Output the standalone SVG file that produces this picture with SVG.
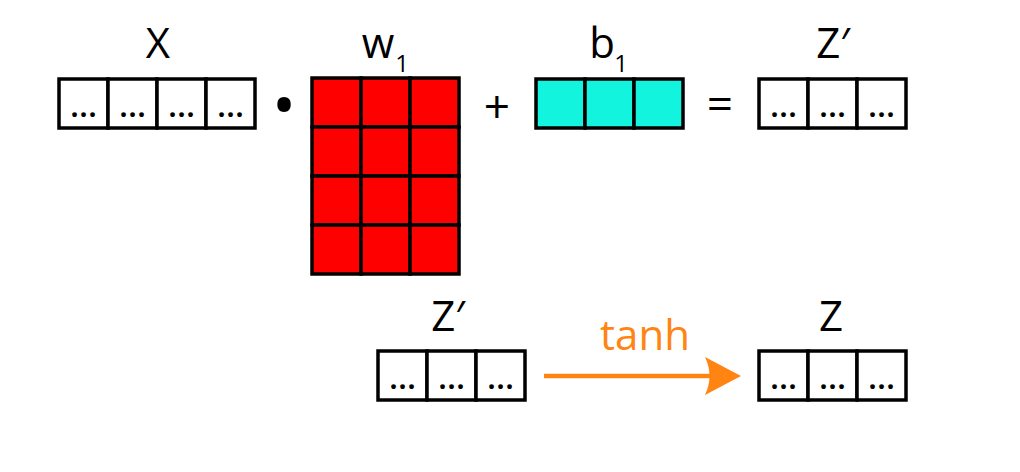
<svg xmlns="http://www.w3.org/2000/svg" width="1020" height="472" viewBox="0 0 1020 472">
  <style>
    .lbl { font-family: "Open Sans", "DejaVu Sans", sans-serif; font-size: 42px; fill: #000; text-anchor: middle; }
    .sub { font-family: "Open Sans", "DejaVu Sans", sans-serif; font-size: 24px; fill: #000; text-anchor: middle; }
    .op { font-family: "Open Sans", "DejaVu Sans", sans-serif; font-size: 46px; fill: #000; text-anchor: middle; }
    .dots { font-family: "Open Sans", "DejaVu Sans", sans-serif; font-size: 33px; font-weight: 600; fill: #000; text-anchor: middle; }
    .cell { fill: #fff; stroke: #000; stroke-width: 3.5; }
    .red { fill: #ff0000; stroke: #000; stroke-width: 3.5; }
    .cyan { fill: #12f4dd; stroke: #000; stroke-width: 3.5; }
    .fn { font-family: "Open Sans", "DejaVu Sans", sans-serif; font-size: 42px; fill: #ff8412; text-anchor: middle; }
  </style>
  <rect width="1020" height="472" fill="#fff"/>

  <g id="X">
    <text class="lbl" x="158" y="58">X</text>
    <rect class="cell" x="59" y="79" width="49" height="49"/>
    <rect class="cell" x="108" y="79" width="49" height="49"/>
    <rect class="cell" x="157" y="79" width="49" height="49"/>
    <rect class="cell" x="206" y="79" width="49" height="49"/>
    <text class="dots" x="83.5" y="117">...</text>
    <text class="dots" x="132.5" y="117">...</text>
    <text class="dots" x="181.5" y="117">...</text>
    <text class="dots" x="230.5" y="117">...</text>
  </g>

  <g id="dot-op">
    <text class="op" x="284" y="128" style="font-size:64px">•</text>
  </g>

  <g id="W1">
    <text class="lbl" x="378" y="58">w</text>
    <text class="sub" x="402" y="72">1</text>
    <rect class="red" x="312" y="78" width="49" height="49"/>
    <rect class="red" x="361" y="78" width="49" height="49"/>
    <rect class="red" x="410" y="78" width="49" height="49"/>
    <rect class="red" x="312" y="127" width="49" height="49"/>
    <rect class="red" x="361" y="127" width="49" height="49"/>
    <rect class="red" x="410" y="127" width="49" height="49"/>
    <rect class="red" x="312" y="176" width="49" height="49"/>
    <rect class="red" x="361" y="176" width="49" height="49"/>
    <rect class="red" x="410" y="176" width="49" height="49"/>
    <rect class="red" x="312" y="225" width="49" height="49"/>
    <rect class="red" x="361" y="225" width="49" height="49"/>
    <rect class="red" x="410" y="225" width="49" height="49"/>
  </g>

  <g id="plus-op">
    <text class="op" x="497" y="123">+</text>
  </g>

  <g id="B1">
    <text class="lbl" x="602" y="58">b</text>
    <text class="sub" x="621" y="72">1</text>
    <rect class="cyan" x="536" y="79" width="49" height="49"/>
    <rect class="cyan" x="585" y="79" width="49" height="49"/>
    <rect class="cyan" x="634" y="79" width="49" height="49"/>
  </g>

  <g id="eq-op">
    <text class="op" x="720" y="120">=</text>
  </g>

  <g id="Zprime-top">
    <text class="lbl" x="833" y="58">Z′</text>
    <rect class="cell" x="759" y="79" width="49" height="49"/>
    <rect class="cell" x="808" y="79" width="49" height="49"/>
    <rect class="cell" x="857" y="79" width="49" height="49"/>
    <text class="dots" x="783.5" y="117">...</text>
    <text class="dots" x="832.5" y="117">...</text>
    <text class="dots" x="881.5" y="117">...</text>
  </g>

  <g id="Zprime-bottom">
    <text class="lbl" x="448" y="331">Z′</text>
    <rect class="cell" x="378" y="351" width="49" height="49"/>
    <rect class="cell" x="427" y="351" width="49" height="49"/>
    <rect class="cell" x="476" y="351" width="49" height="49"/>
    <text class="dots" x="402.5" y="389">...</text>
    <text class="dots" x="451.5" y="389">...</text>
    <text class="dots" x="500.5" y="389">...</text>
  </g>

  <g id="Z">
    <text class="lbl" x="831" y="331">Z</text>
    <rect class="cell" x="759" y="351" width="49" height="49"/>
    <rect class="cell" x="808" y="351" width="49" height="49"/>
    <rect class="cell" x="857" y="351" width="49" height="49"/>
    <text class="dots" x="783.5" y="389">...</text>
    <text class="dots" x="832.5" y="389">...</text>
    <text class="dots" x="881.5" y="389">...</text>
  </g>

  <g id="connectors">
    <line x1="544" y1="376" x2="712" y2="376" stroke="#ff8412" stroke-width="4.5"/>
    <path d="M741,376 L705,357 Q714,376 705,395 Z" fill="#ff8412"/>
    <text class="fn" x="645" y="350">tanh</text>
  </g>
</svg>
